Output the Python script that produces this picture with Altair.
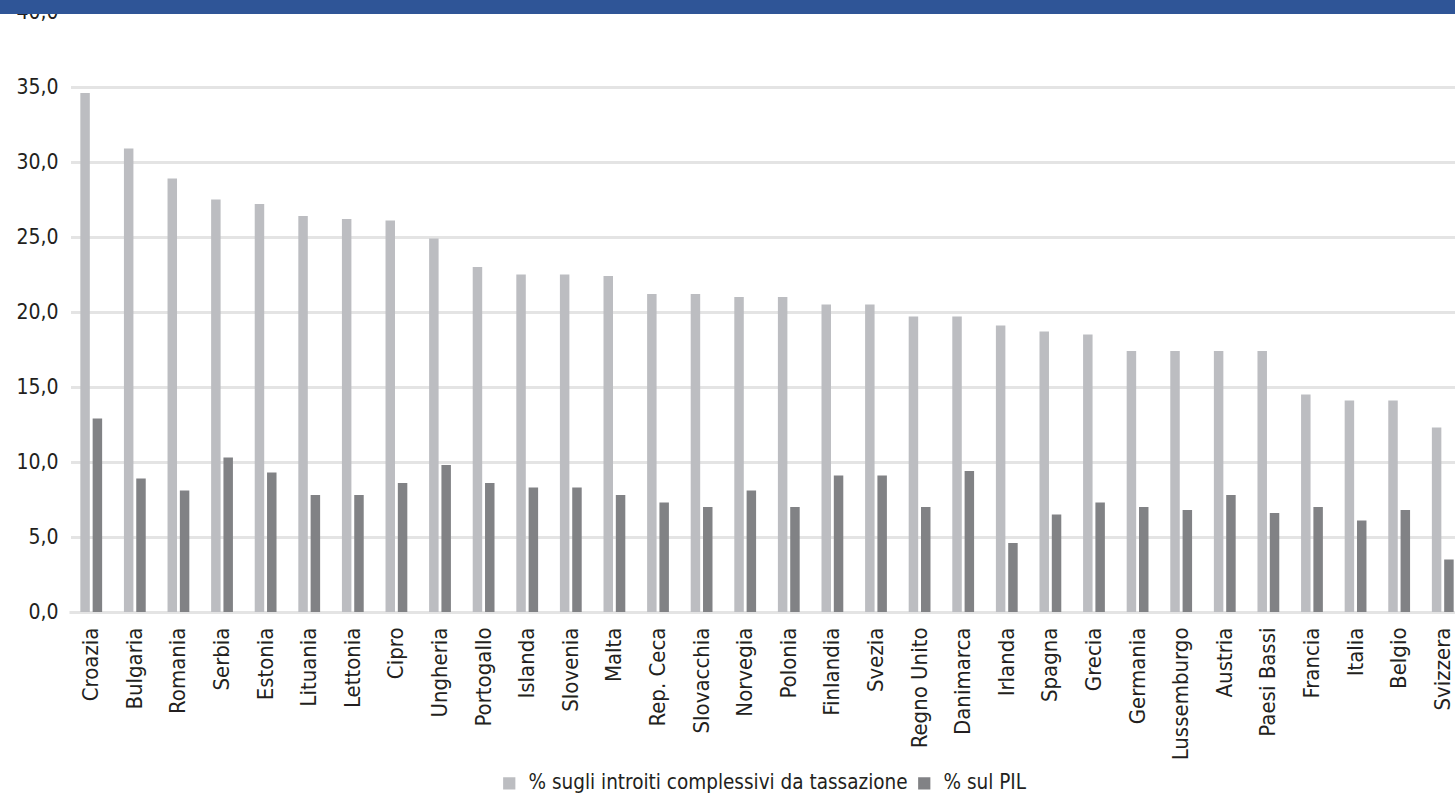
import altair as alt
import pandas as pd

countries = ["Croazia", "Bulgaria", "Romania", "Serbia", "Estonia", "Lituania", "Lettonia",
             "Cipro", "Ungheria", "Portogallo", "Islanda", "Slovenia", "Malta", "Rep. Ceca",
             "Slovacchia", "Norvegia", "Polonia", "Finlandia", "Svezia", "Regno Unito",
             "Danimarca", "Irlanda", "Spagna", "Grecia", "Germania", "Lussemburgo", "Austria",
             "Paesi Bassi", "Francia", "Italia", "Belgio", "Svizzera"]

share_tax = [34.6, 30.9, 28.9, 27.5, 27.2, 26.4, 26.2, 26.1, 24.9, 23.0, 22.5, 22.5, 22.4,
             21.2, 21.2, 21.0, 21.0, 20.5, 20.5, 19.7, 19.7, 19.1, 18.7, 18.5, 17.4, 17.4,
             17.4, 17.4, 14.5, 14.1, 14.1, 12.3]

share_gdp = [12.9, 8.9, 8.1, 10.3, 9.3, 7.8, 7.8, 8.6, 9.8, 8.6, 8.3, 8.3, 7.8, 7.3, 7.0,
             8.1, 7.0, 9.1, 9.1, 7.0, 9.4, 4.6, 6.5, 7.3, 7.0, 6.8, 7.8, 6.6, 7.0, 6.1,
             6.8, 3.5]

series_names = ["% sugli introiti complessivi da tassazione", "% sul PIL"]
series_colors = ["#bcbdc1", "#818285"]
y_ticks = [0, 5, 10, 15, 20, 25, 30, 35, 40]

rows = []
for c, a, b in zip(countries, share_tax, share_gdp):
    rows.append({"paese": c, "serie": series_names[0], "valore": a})
    rows.append({"paese": c, "serie": series_names[1], "valore": b})
df = pd.DataFrame(rows)

FONT = "Liberation Sans Narrow, Arial Narrow, DejaVu Sans Condensed, sans-serif"

bars = alt.Chart(df).mark_bar().encode(
    x=alt.X("paese:N", sort=countries,
            scale=alt.Scale(range=[0, 1396], paddingInner=0.5, paddingOuter=0.26),
            axis=alt.Axis(title=None, labelAngle=-90, labelPadding=15, ticks=False,
                          tickSize=0, domain=False, domainOpacity=0, grid=False,
                          labelFontSize=22, labelColor="#231f20", labelFont=FONT,
                          zindex=0)),
    xOffset=alt.XOffset("serie:N", sort=series_names,
                        scale=alt.Scale(paddingInner=0.23, paddingOuter=0)),
    y=alt.Y("valore:Q",
            scale=alt.Scale(domain=[0, 40], nice=False),
            axis=alt.Axis(title=None, values=y_ticks, ticks=False, tickSize=0,
                          domain=False, domainOpacity=0, gridColor="#e4e4e4", gridWidth=3,
                          labelExpr="replace(format(datum.value, '.1f'), '.', ',')",
                          labelFontSize=21, labelColor="#231f20", labelFont=FONT,
                          labelPadding=11, zindex=0)),
    color=alt.Color("serie:N", sort=series_names,
                    scale=alt.Scale(domain=series_names, range=series_colors),
                    legend=alt.Legend(title=None, orient="none", direction="horizontal",
                                      legendX=430, legendY=761, symbolType="square",
                                      symbolSize=150, symbolStrokeWidth=0,
                                      labelFontSize=20.5, labelFont=FONT, labelLimit=0,
                                      labelColor="#231f20", labelOffset=9,
                                      columnPadding=6, padding=0)),
)

band = alt.Chart(pd.DataFrame({"k": [0]})).mark_rect(
    color="#2f5597", strokeWidth=0
).encode(
    x=alt.value(-69), x2=alt.value(1400), y=alt.value(-12), y2=alt.value(2)
)

edge_cover = alt.Chart(pd.DataFrame({"k": [0]})).mark_rect(
    color="white", strokeWidth=0
).encode(
    x=alt.value(-6), x2=alt.value(2), y=alt.value(2), y2=alt.value(597)
)

chart = alt.layer(bars, band, edge_cover).properties(
    width=1386, height=600,
    background="white",
    autosize=alt.AutoSizeParams(type="none"),
    padding={"left": 69, "top": 12, "right": 0, "bottom": 186},
).configure_view(
    stroke=None, strokeWidth=0, strokeOpacity=0
).configure_axis(
    domain=False, domainOpacity=0
).configure_axisLeft(
    domain=False
)

chart.save("out.html", embed_options={"renderer": "svg", "actions": False})
